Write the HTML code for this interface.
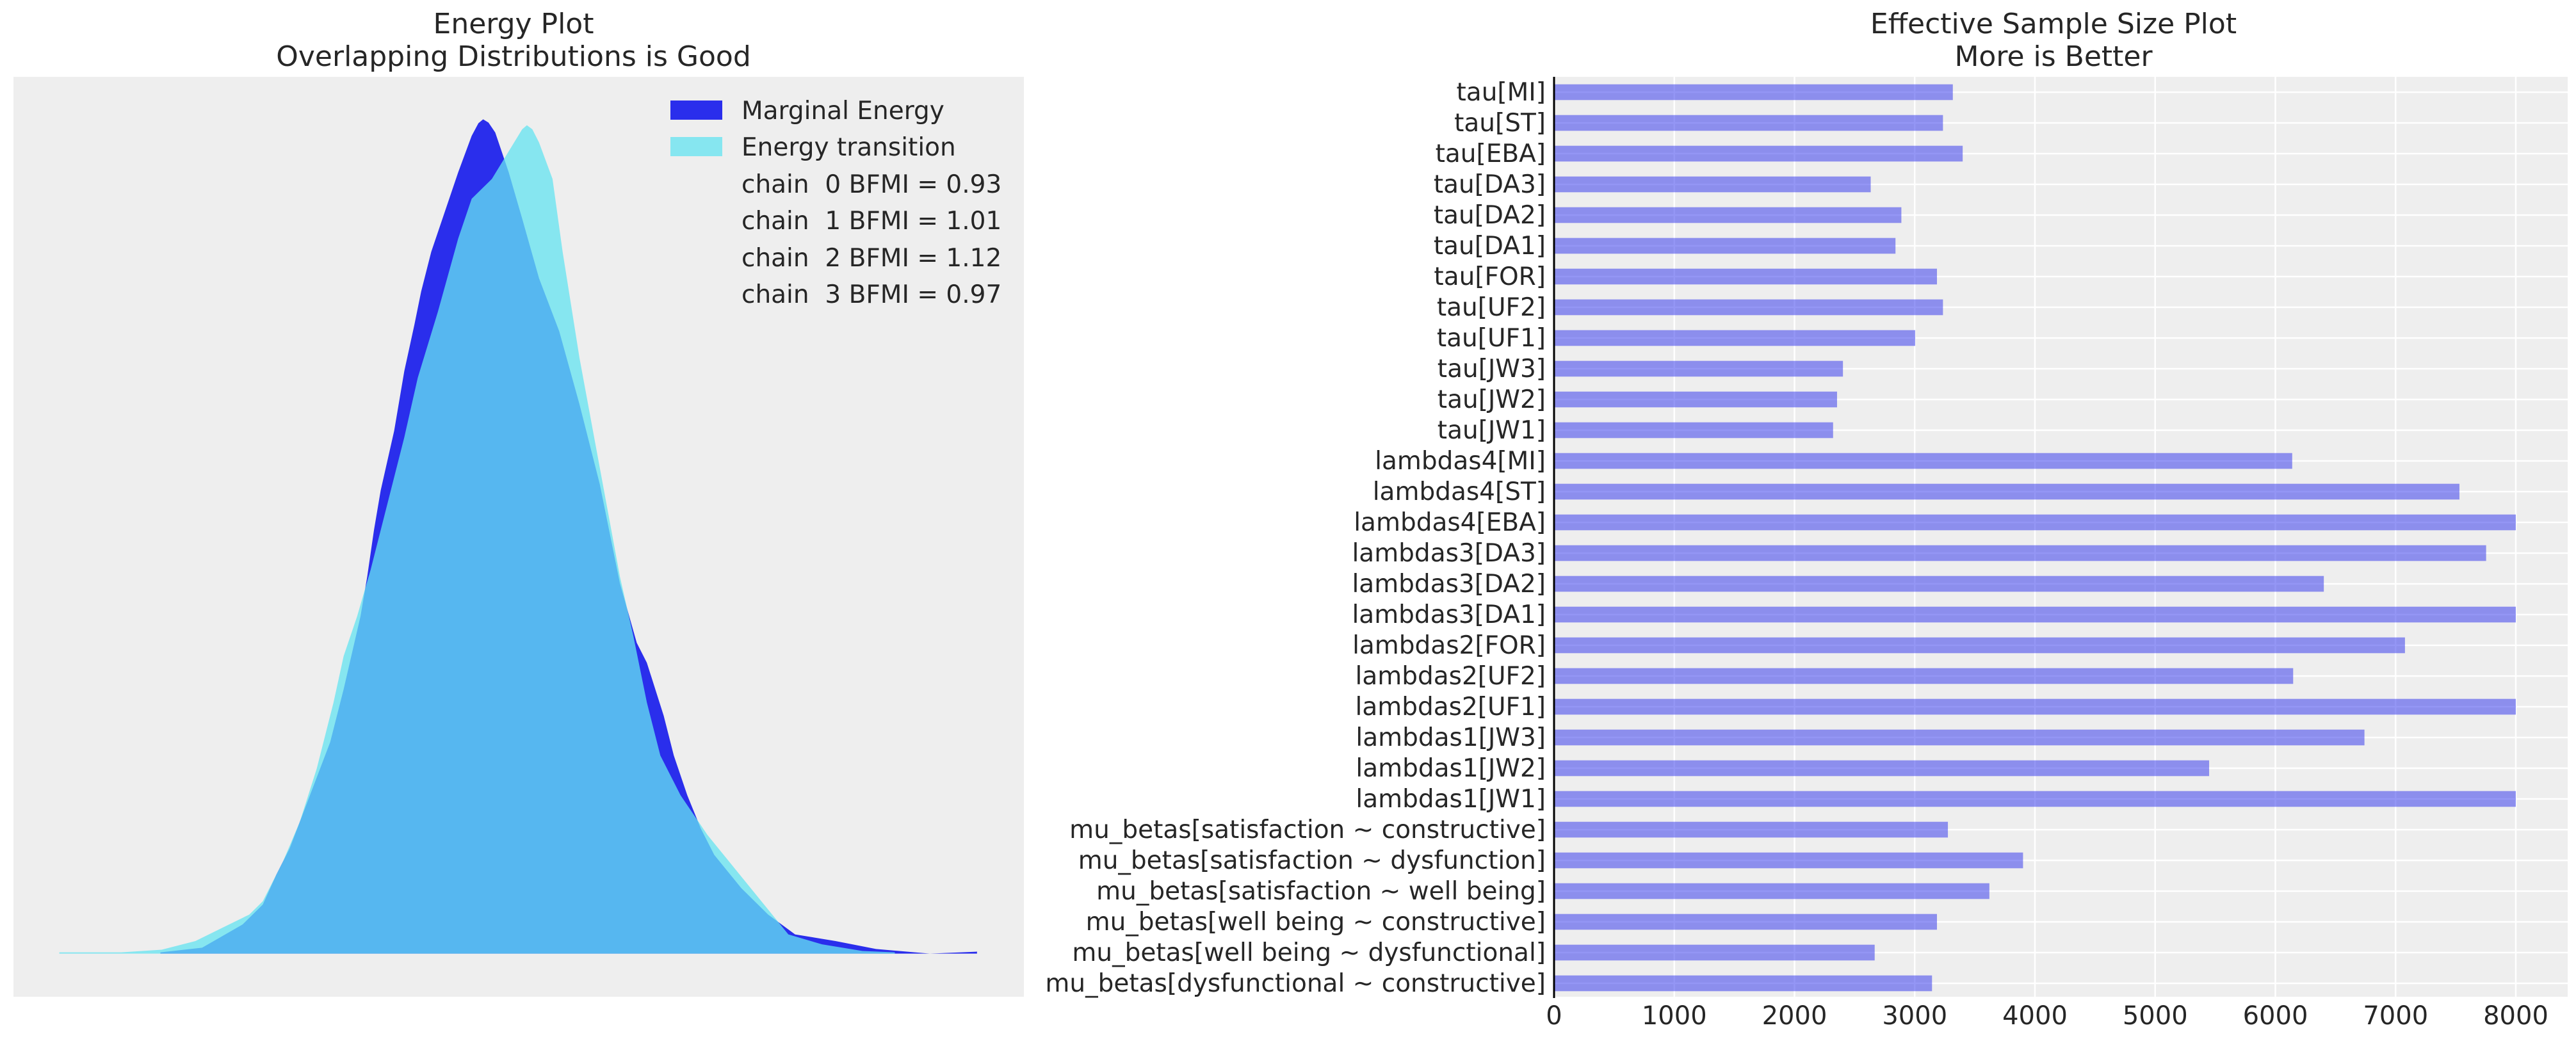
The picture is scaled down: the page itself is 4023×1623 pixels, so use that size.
<!DOCTYPE html>
<html><head><meta charset="utf-8"><style>
html,body{margin:0;padding:0;background:#fff;}
svg{display:block;}
text{font-family:"DejaVu Sans","Liberation Sans",sans-serif;fill:#262626;white-space:pre;}
</style></head><body>
<svg width="4023" height="1623" viewBox="0 0 4023 1623" xmlns="http://www.w3.org/2000/svg">
<!-- Left panel -->
<rect x="21" y="120" width="1578" height="1437" fill="#eeeeee"/>
<text x="802" y="52" font-size="44" text-anchor="middle">Energy Plot</text>
<text x="802" y="103" font-size="44" text-anchor="middle">Overlapping Distributions is Good</text>
<g transform="scale(1.0523,1.0352)">
<path fill="#2a2eec" d="M238,1439 L238,1437 L300,1430 L360,1395 L390,1365 L410,1320 L430,1280 L460,1200 L490,1120 L510,1040 L535,930 L545,870 L555,800 L565,740 L585,650 L600,560 L615,490 L625,440 L640,380 L660,320 L680,260 L700,205 L710,186 L717,180 L725,185 L735,200 L755,260 L775,330 L800,420 L830,500 L860,610 L890,730 L920,880 L945,970 L960,1000 L985,1080 L1000,1140 L1020,1200 L1040,1250 L1060,1290 L1100,1340 L1140,1380 L1180,1410 L1240,1420 L1300,1432 L1380,1439 L1450,1436 L1450,1439 Z"/>
<path fill="rgba(100,227,241,0.755)" d="M88,1439 L88,1437 L180,1437 L240,1433 L290,1420 L330,1400 L370,1380 L390,1360 L420,1300 L445,1240 L470,1160 L495,1060 L510,990 L530,930 L550,860 L575,760 L600,660 L620,570 L650,470 L680,360 L700,300 L730,270 L760,220 L775,195 L782,189 L790,195 L800,215 L820,270 L835,380 L860,540 L880,650 L900,760 L920,870 L940,960 L960,1060 L980,1140 L1010,1200 L1050,1260 L1090,1310 L1130,1360 L1170,1410 L1220,1425 L1280,1435 L1328,1437 L1328,1439 Z"/>
</g>
<rect x="1047" y="157" width="81" height="30" fill="#2a2eec"/>
<rect x="1047" y="214" width="81" height="30" fill="rgba(100,227,241,0.755)"/>
<g font-size="39">
<text x="1158" y="186">Marginal Energy</text>
<text x="1158" y="243">Energy transition</text>
<text x="1158" y="301">chain  0 BFMI = 0.93</text>
<text x="1158" y="358">chain  1 BFMI = 1.01</text>
<text x="1158" y="416">chain  2 BFMI = 1.12</text>
<text x="1158" y="473">chain  3 BFMI = 0.97</text>
</g>
<!-- Right panel -->
<rect x="2427" y="120" width="1583" height="1437" fill="#eeeeee"/>
<text x="3207" y="52" font-size="44" text-anchor="middle">Effective Sample Size Plot</text>
<text x="3207" y="103" font-size="44" text-anchor="middle">More is Better</text>
<g stroke="#ffffff" stroke-width="2.5">
<line x1="2614.75" y1="120" x2="2614.75" y2="1557"/>
<line x1="2802.5" y1="120" x2="2802.5" y2="1557"/>
<line x1="2990.25" y1="120" x2="2990.25" y2="1557"/>
<line x1="3178" y1="120" x2="3178" y2="1557"/>
<line x1="3365.75" y1="120" x2="3365.75" y2="1557"/>
<line x1="3553.5" y1="120" x2="3553.5" y2="1557"/>
<line x1="3741.25" y1="120" x2="3741.25" y2="1557"/>
<line x1="3929" y1="120" x2="3929" y2="1557"/>
</g>
<g id="bars"></g>
<line x1="2427" y1="120" x2="2427" y2="1559" stroke="#000" stroke-width="3"/>
<g font-size="40" text-anchor="middle">
<text x="2427" y="1600">0</text>
<text x="2614.75" y="1600">1000</text>
<text x="2802.5" y="1600">2000</text>
<text x="2990.25" y="1600">3000</text>
<text x="3178" y="1600">4000</text>
<text x="3365.75" y="1600">5000</text>
<text x="3553.5" y="1600">6000</text>
<text x="3741.25" y="1600">7000</text>
<text x="3929" y="1600">8000</text>
</g>
<g id="labels" font-size="39" text-anchor="end"></g>
</svg>
<script>
var names=["tau[MI]","tau[ST]","tau[EBA]","tau[DA3]","tau[DA2]","tau[DA1]","tau[FOR]","tau[UF2]","tau[UF1]","tau[JW3]","tau[JW2]","tau[JW1]","lambdas4[MI]","lambdas4[ST]","lambdas4[EBA]","lambdas3[DA3]","lambdas3[DA2]","lambdas3[DA1]","lambdas2[FOR]","lambdas2[UF2]","lambdas2[UF1]","lambdas1[JW3]","lambdas1[JW2]","lambdas1[JW1]","mu_betas[satisfaction ~ constructive]","mu_betas[satisfaction ~ dysfunction]","mu_betas[satisfaction ~ well being]","mu_betas[well being ~ constructive]","mu_betas[well being ~ dysfunctional]","mu_betas[dysfunctional ~ constructive]"];
var vals=[3317,3235,3399,2634,2889,2840,3185,3235,3004,2403,2354,2321,6140,7531,8000,7753,6403,8000,7078,6148,8000,6741,5449,8000,3276,3901,3621,3185,2667,3144];
var ns="http://www.w3.org/2000/svg",b=document.getElementById("bars"),l=document.getElementById("labels");
for(var i=0;i<30;i++){var y=144+48*i;
var g=document.createElementNS(ns,"line");g.setAttribute("x1",2427);g.setAttribute("x2",4010);g.setAttribute("y1",y);g.setAttribute("y2",y);g.setAttribute("stroke","#fff");g.setAttribute("stroke-width","2.5");b.appendChild(g);}
for(var i=0;i<30;i++){var y=144+48*i;
var r=document.createElementNS(ns,"rect");r.setAttribute("x",2427);r.setAttribute("y",y-12.3);r.setAttribute("width",vals[i]*0.187750);r.setAttribute("height",24.6);r.setAttribute("fill","rgba(42,46,236,0.5)");b.appendChild(r);
var t=document.createElementNS(ns,"text");t.setAttribute("x",2414);t.setAttribute("y",y+13);t.textContent=names[i];l.appendChild(t);}
</script>
</body></html>
